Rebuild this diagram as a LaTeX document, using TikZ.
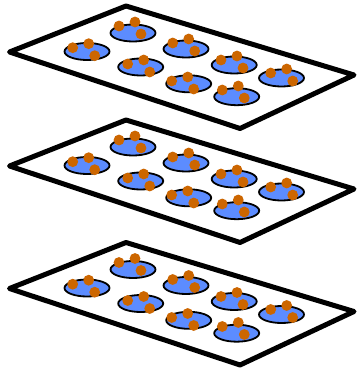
\documentclass[tikz,border=0pt]{standalone}
\definecolor{wellblue}{RGB}{92,140,255}
\definecolor{cellorange}{RGB}{204,102,0}
\begin{document}
\begin{tikzpicture}[x=1pt,y=-1pt,
  plate/.style={draw=black,line width=5pt,line join=round,fill=white},
  well/.style={draw=black,line width=1.8pt,fill=wellblue},
  cell/.style={fill=cellorange}]
\useasboundingbox (0,0) rectangle (358,371);
% three stacked culture plates, each with eight wells of cells
\foreach \ly in {0,114,236.5}{
  \begin{scope}[shift={(0,\ly)}]
    \draw[plate] (9.5,52) -- (126,6) -- (354,75) -- (240,128.5) -- cycle;
    % well centre / position of the first cell in the well
    \foreach \cx/\cy/\px/\py in {87/51.5/72.7/47.7, 133/33/119/26,
        186/49/172.7/43, 140.7/67/127.7/64, 234.2/65/221/60,
        188.7/83.8/171.7/81, 281.5/78/270.7/73, 236.7/96.7/222.3/90}{
      \draw[well] (\cx,\cy) ellipse [x radius=22.5, y radius=8.5];
      \fill[cell] (\px,\py) circle [radius=5.4];
      \fill[cell] ({\px+16},{\py-4}) circle [radius=5.4];
      \fill[cell] ({\px+22},{\py+8}) circle [radius=5.4];
    }
  \end{scope}
}
\end{tikzpicture}
\end{document}
